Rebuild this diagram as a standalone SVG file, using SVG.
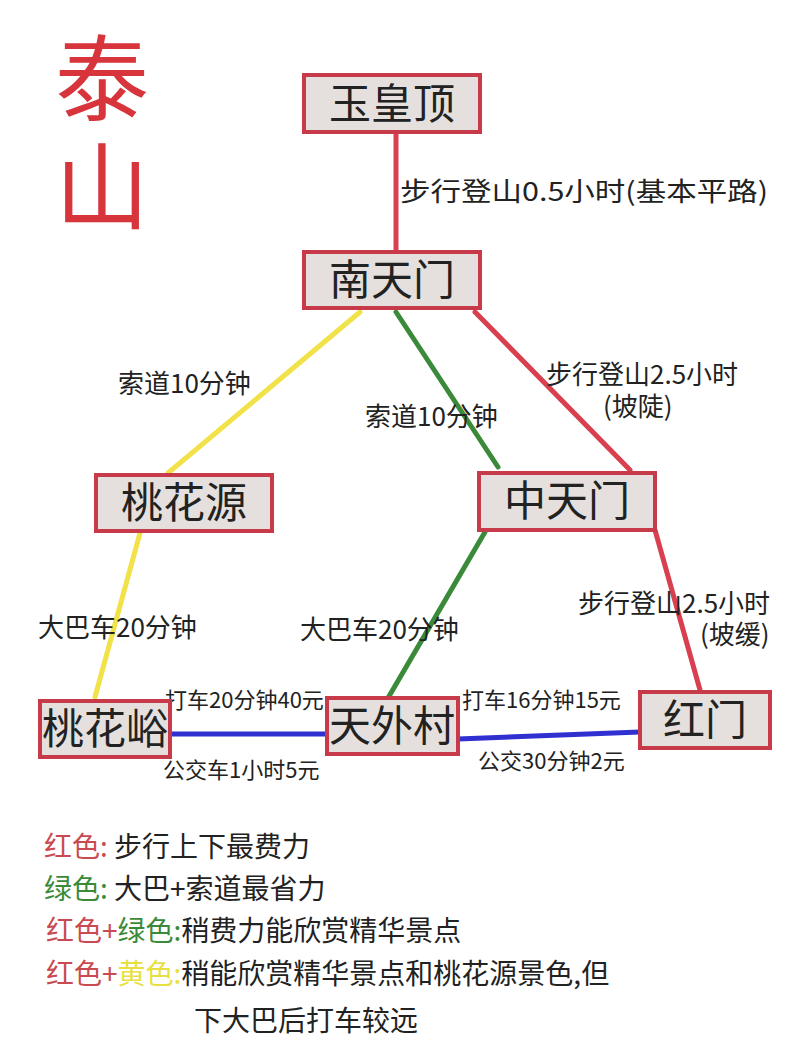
<svg xmlns="http://www.w3.org/2000/svg" width="800" height="1041" viewBox="0 0 800 1041">
<style>
text{font-family:"Noto Sans CJK SC","Liberation Sans",sans-serif;fill:#222}
.box{fill:#e5e0dd;stroke:#c73a4a;stroke-width:4}
.n{font-size:42px;text-anchor:middle}
.l{font-size:26px}
.s{font-size:22px}
.g{font-size:28px}
.c{stroke-width:5;fill:none;stroke-linecap:round}
</style>
<rect width="800" height="1041" fill="#fff"/>
<text x="102" y="114" font-size="94" text-anchor="middle" style="fill:#d7343c">泰</text>
<text x="102" y="222" font-size="94" text-anchor="middle" style="fill:#d7343c">山</text>
<g id="connectors">
<line class="c" x1="396" y1="132" x2="396" y2="252" stroke="#d8404f"/>
<line class="c" x1="360" y1="312" x2="168" y2="473" stroke="#f2e24a"/>
<line class="c" x1="140" y1="533" x2="95" y2="697" stroke="#f2e24a"/>
<line class="c" x1="396" y1="312" x2="498" y2="467" stroke="#3b8a3a"/>
<line class="c" x1="485" y1="532" x2="388" y2="698" stroke="#3b8a3a"/>
<line class="c" x1="475" y1="312" x2="630" y2="470" stroke="#d8404f"/>
<line class="c" x1="655" y1="530" x2="700" y2="690" stroke="#d8404f"/>
<line class="c" x1="170" y1="734" x2="327" y2="734" stroke="#3030d0"/>
<line class="c" x1="458" y1="739" x2="640" y2="732" stroke="#3030d0"/>
</g>
<g id="labels">
<text class="l" x="400" y="201" textLength="368" lengthAdjust="spacingAndGlyphs">步行登山0.5小时(基本平路)</text>
<text class="l" x="118" y="393">索道10分钟</text>
<text class="l" x="365" y="426">索道10分钟</text>
<text class="l" x="546" y="384">步行登山2.5小时</text>
<text class="l" x="603" y="416">(坡陡)</text>
<text class="l" x="38" y="637">大巴车20分钟</text>
<text class="l" x="300" y="639">大巴车20分钟</text>
<text class="l" x="578" y="613">步行登山2.5小时</text>
<text class="l" x="700" y="644">(坡缓)</text>
<text class="s" x="165" y="708">打车20分钟40元</text>
<text class="s" x="163" y="778">公交车1小时5元</text>
<text class="s" x="462" y="708">打车16分钟15元</text>
<text class="s" x="478" y="769">公交30分钟2元</text>
</g>
<g id="n1"><rect class="box" x="304" y="75" width="176" height="57"/><text class="n" x="392" y="119">玉皇顶</text></g>
<g id="n2"><rect class="box" x="304" y="252" width="176" height="56"/><text class="n" x="392" y="295">南天门</text></g>
<g id="n3"><rect class="box" x="96" y="475" width="176" height="56"/><text class="n" x="184" y="518">桃花源</text></g>
<g id="n4"><rect class="box" x="479" y="473" width="176" height="57"/><text class="n" x="567" y="516">中天门</text></g>
<g id="n5"><rect class="box" x="40" y="701" width="130" height="56"/><text class="n" x="105" y="744">桃花峪</text></g>
<g id="n6"><rect class="box" x="327" y="698" width="131" height="56"/><text class="n" x="392" y="741">天外村</text></g>
<g id="n7"><rect class="box" x="640" y="692" width="130" height="56"/><text class="n" x="705" y="735">红门</text></g>
<g id="legend">
<text class="g" x="44" y="857"><tspan style="fill:#c94a50">红色:</tspan> 步行上下最费力</text>
<text class="g" x="44" y="899"><tspan style="fill:#3b8a3a">绿色:</tspan> 大巴+索道最省力</text>
<text class="g" x="46" y="941"><tspan style="fill:#c94a50">红色+</tspan><tspan style="fill:#3b8a3a">绿色:</tspan>稍费力能欣赏精华景点</text>
<text class="g" x="46" y="984"><tspan style="fill:#c94a50">红色+</tspan><tspan style="fill:#e8e040">黄色:</tspan>稍能欣赏精华景点和桃花源景色,但</text>
<text class="g" x="194" y="1031">下大巴后打车较远</text>
</g>
</svg>
